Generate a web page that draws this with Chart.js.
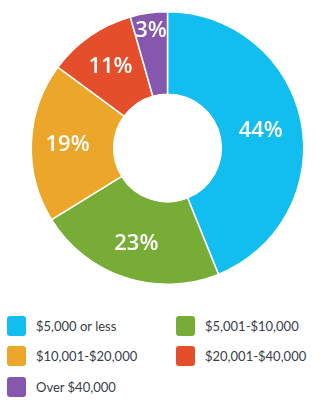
<!DOCTYPE html>
<html>
<head>
<meta charset="utf-8">
<script src="https://cdn.jsdelivr.net/npm/chart.js@4.4.1/dist/chart.umd.min.js"></script>
<style>
  html, body { margin: 0; padding: 0; background: #fff; }
  body { width: 335px; height: 407px; overflow: hidden; font-family: "Lato", "Open Sans", sans-serif; }
  #chart-box { position: absolute; left: 0; top: 11px; width: 335px; height: 274px; }
  #legend { position: absolute; left: 7px; top: 316px; width: 320px; }
  .item { position: absolute; display: flex; align-items: center; height: 20px; font-size: 13px; color: #383e48; }
  .swatch { width: 19px; height: 20px; border-radius: 3px; margin-right: 10px; }
</style>
</head>
<body>
<div id="chart-box"><canvas id="incomeChart"></canvas></div>
<div id="legend"></div>
<script>
// Categorie e valori
const CATEGORIES = ['$5,000 or less', '$5,001-$10,000', '$10,001-$20,000', '$20,001-$40,000', 'Over $40,000'];
const SHARES = [43.9, 22.3, 18.9, 10.5, 4.4];          // ampiezza delle fette
const PCT_LABELS = ['44%', '23%', '19%', '11%', '3%'];  // etichette stampate
const COLORS = ['#12bdef', '#77ac37', '#eca629', '#e54e2a', '#8558ae'];

// Ordine della legenda: due colonne
const LEGEND_ORDER = [0, 1, 2, 3, 4];

/**
 * Disegna le percentuali in bianco dentro ogni fetta.
 */
const sliceLabels = {
    id: 'sliceLabels',
    afterDatasetsDraw(chart) {
        const { ctx } = chart;
        const meta = chart.getDatasetMeta(0);
        ctx.save();
        ctx.fillStyle = '#fff';
        ctx.font = '600 22px "Open Sans", sans-serif';
        ctx.textAlign = 'center';
        ctx.textBaseline = 'middle';
        meta.data.forEach((arc, i) => {
            const p = arc.getProps(['x', 'y', 'startAngle', 'endAngle', 'innerRadius', 'outerRadius'], true);
            const mid = (p.startAngle + p.endAngle) / 2;
            // le fette piccole hanno l'etichetta più verso l'esterno
            const f = SHARES[i] < 6 ? 0.8 : (SHARES[i] > 40 ? 0.5 : 0.56);
            const r = p.innerRadius + (p.outerRadius - p.innerRadius) * f;
            ctx.fillText(PCT_LABELS[i], p.x + Math.cos(mid) * r, p.y + Math.sin(mid) * r + 1);
        });
        ctx.restore();
    }
};

function buildLegend() {
    const box = document.getElementById('legend');
    LEGEND_ORDER.forEach((idx, n) => {
        const col = n % 2, row = Math.floor(n / 2);
        const el = document.createElement('div');
        el.className = 'item';
        el.style.left = (col * 169) + 'px';
        el.style.top = (row * 30.3) + 'px';
        el.innerHTML = `<span class="swatch" style="background:${COLORS[idx]}"></span>${CATEGORIES[idx]}`;
        box.appendChild(el);
    });
}

new Chart(document.getElementById('incomeChart'), {
    type: 'doughnut',
    data: {
        labels: CATEGORIES,
        datasets: [{
            data: SHARES,
            backgroundColor: COLORS,
            borderColor: '#fff',
            borderWidth: 1.5
        }]
    },
    options: {
        responsive: true,
        maintainAspectRatio: false,
        cutout: '39.5%',
        layout: { padding: 0 },
        plugins: {
            legend: { display: false },
            tooltip: { enabled: false }
        },
        animation: false
    },
    plugins: [sliceLabels]
});

buildLegend();
</script>
</body>
</html>
